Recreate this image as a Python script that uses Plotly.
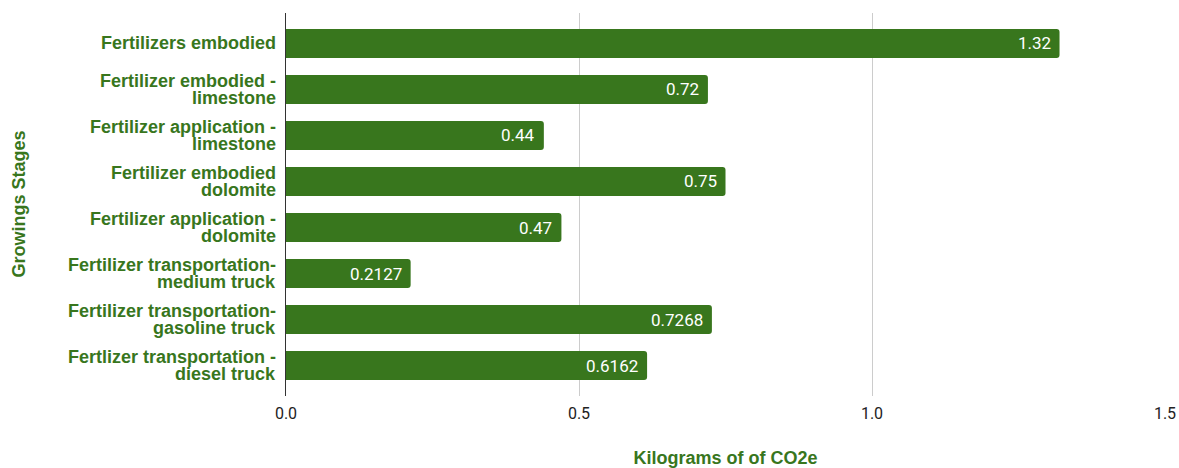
import plotly.graph_objects as go

stages = [
    "Fertilizers embodied",
    "Fertilizer embodied -<br>limestone",
    "Fertilizer application -<br>limestone",
    "Fertilizer embodied<br>dolomite",
    "Fertilizer application -<br>dolomite",
    "Fertilizer transportation-<br>medium truck",
    "Fertilizer transportation-<br>gasoline truck",
    "Fertlizer transportation -<br>diesel truck",
]
kg_co2e = [1.32, 0.72, 0.44, 0.75, 0.47, 0.2127, 0.7268, 0.6162]
value_labels = ["1.32", "0.72", "0.44", "0.75", "0.47", "0.2127", "0.7268", "0.6162"]
x_ticks = [0, 0.5, 1.0, 1.5]
x_tick_labels = ["0.0", "0.5", "1.0", "1.5"]

GREEN = "#38761d"
LABEL_FONT = "Liberation Sans, Arial, sans-serif"
LINE_GAP = 17  # px between lines of a wrapped category label

fig = go.Figure(
    go.Bar(
        x=kg_co2e,
        y=stages,
        orientation="h",
        marker=dict(color=GREEN, line=dict(width=0)),
        width=0.63,
        hoverinfo="x+y",
    )
)

# value labels sit inside the bar end
for v, s, t in zip(kg_co2e, stages, value_labels):
    fig.add_annotation(
        x=v, y=s, text=t, showarrow=False,
        xanchor="right", xshift=-7, yanchor="middle",
        font=dict(family="Roboto", size=17, color="white"),
    )

# category labels, drawn line by line for tighter leading
for s in stages:
    lines = s.split("<br>")
    n = len(lines)
    for i, line in enumerate(lines):
        fig.add_annotation(
            xref="paper", x=0, y=s, text=f"<b>{line}</b>", showarrow=False,
            xanchor="right", xshift=-8, yanchor="middle",
            yshift=((n - 1) / 2 - i) * LINE_GAP,
            font=dict(family=LABEL_FONT, size=18, color=GREEN),
        )

fig.update_layout(
    width=1179,
    height=468,
    margin=dict(l=286, r=14, t=13, b=72, autoexpand=False),
    plot_bgcolor="white",
    paper_bgcolor="white",
    showlegend=False,
    barcornerradius=3,
)

fig.update_xaxes(
    range=[0, 1.5],
    automargin=False,
    tickvals=x_ticks,
    ticktext=x_tick_labels,
    tickfont=dict(family="Roboto", size=16, color="#222222"),
    ticklabelstandoff=6,
    showgrid=True,
    gridcolor="#cccccc",
    gridwidth=1,
    zeroline=False,
    showline=False,
    ticks="",
    title=dict(
        text="<b>Kilograms of of CO2e</b>",
        font=dict(family=LABEL_FONT, size=18, color=GREEN),
        standoff=38,
    ),
)

fig.update_yaxes(
    categoryorder="array",
    categoryarray=stages,
    autorange=False,
    automargin=False,
    range=[7.66, -0.66],
    showticklabels=False,
    showgrid=False,
    showline=True,
    linecolor="#333333",
    linewidth=1,
    ticks="",
    title=dict(text=""),
)

fig.add_annotation(
    text="<b>Growings Stages</b>",
    xref="paper", yref="paper",
    x=-(286 - 18) / 879, y=0.5,
    xanchor="center", yanchor="middle",
    textangle=-90, showarrow=False,
    font=dict(family=LABEL_FONT, size=18, color=GREEN),
)

fig.write_html("out.html")
